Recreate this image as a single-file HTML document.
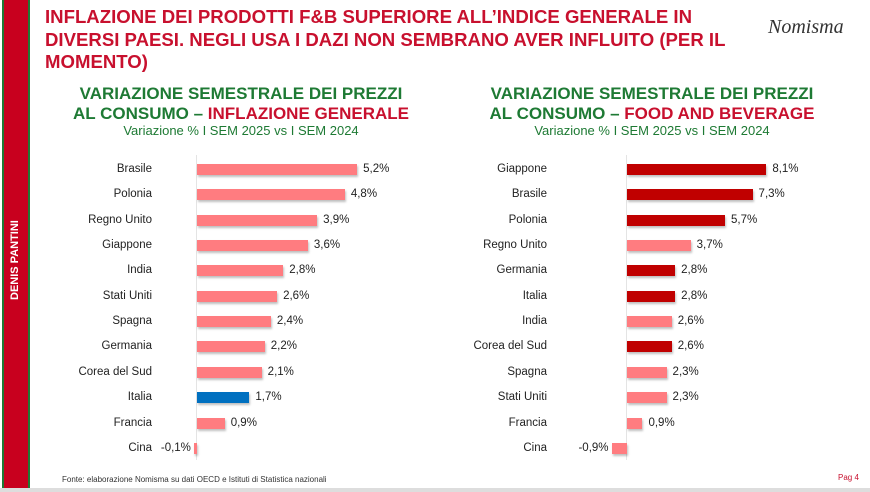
<!DOCTYPE html>
<html><head><meta charset="utf-8"><style>
body{margin:0;width:870px;height:492px;background:#fff;position:relative;overflow:hidden;font-family:"Liberation Sans",sans-serif}
.a{position:absolute}
.t{left:45px;top:6px;color:#c8102e;font-weight:bold;font-size:18.6px;line-height:22.5px}
.h{color:#1e7a34;font-weight:bold;font-size:17px;line-height:20px;text-align:center;width:400px}
.s{color:#1e7a34;font-size:13px;text-align:center;width:400px}
.l{font-size:11.5px;color:#222;text-align:right;width:140px}
.v{font-size:11.5px;color:#222}
.b{height:11px;box-shadow:1px 2px 2px rgba(0,0,0,.25)}
</style></head><body>
<div class="a" style="left:2px;top:0;width:28px;height:488px;background:#1e7a34"></div>
<div class="a" style="left:4px;top:0;width:24px;height:488px;background:#c8001e"></div>
<div class="a" style="left:5px;top:300px;width:22px;height:0"><div style="position:absolute;transform:rotate(-90deg);transform-origin:0 0;left:4px;top:0;color:#fff;font-weight:bold;font-size:11px;white-space:nowrap;">DENIS PANTINI</div></div>
<div class="a" style="left:0;top:488px;width:870px;height:4px;background:#ddd"></div>
<div class="a t">INFLAZIONE DEI PRODOTTI F&amp;B SUPERIORE ALL’INDICE GENERALE IN<br>DIVERSI PAESI. NEGLI USA I DAZI NON SEMBRANO AVER INFLUITO (PER IL<br>MOMENTO)</div>
<div class="a" style="left:768px;top:16px;font-family:'Liberation Serif',serif;font-style:italic;font-size:20px;color:#333">Nomisma</div>
<div class="a h" style="left:41px;top:84px">VARIAZIONE SEMESTRALE DEI PREZZI<br>AL CONSUMO – <span style="color:#c8102e">INFLAZIONE GENERALE</span></div>
<div class="a s" style="left:41px;top:123px">Variazione % I SEM 2025 vs I SEM 2024</div>
<div class="a h" style="left:452px;top:84px">VARIAZIONE SEMESTRALE DEI PREZZI<br>AL CONSUMO – <span style="color:#c8102e">FOOD AND BEVERAGE</span></div>
<div class="a s" style="left:452px;top:123px">Variazione % I SEM 2025 vs I SEM 2024</div>
<div class="a" style="left:196px;top:155px;width:1px;height:305px;background:#e4e4e4"></div>
<div class="a" style="left:626px;top:155px;width:1px;height:305px;background:#e4e4e4"></div>
<div id="c"></div>
<div class="a" style="left:62px;top:475px;font-size:8px;color:#333">Fonte: elaborazione Nomisma su dati OECD e Istituti di Statistica nazionali</div>
<div class="a" style="left:838px;top:473px;font-size:8px;color:#c8102e">Pag 4</div>
<script>
var P='#ff7c80',D='#c00000',B='#0070c0';
var L=[["Brasile",5.2,P],["Polonia",4.8,P],["Regno Unito",3.9,P],["Giappone",3.6,P],["India",2.8,P],["Stati Uniti",2.6,P],["Spagna",2.4,P],["Germania",2.2,P],["Corea del Sud",2.1,P],["Italia",1.7,B],["Francia",0.9,P],["Cina",-0.1,P]];
var R=[["Giappone",8.1,D],["Brasile",7.3,D],["Polonia",5.7,D],["Regno Unito",3.7,P],["Germania",2.8,D],["Italia",2.8,D],["India",2.6,P],["Corea del Sud",2.6,D],["Spagna",2.3,P],["Stati Uniti",2.3,P],["Francia",0.9,P],["Cina",-0.9,P]];
var h='';
function draw(d,ax,sc,lr){d.forEach(function(r,i){var y=169+i*25.35;var w=Math.abs(r[1])*sc;var x=r[1]<0?ax-w:ax;
h+='<div class="a l" style="left:'+(lr-140)+'px;top:'+(y-6)+'px">'+r[0]+'</div>';
h+='<div class="a b" style="left:'+x+'px;top:'+(y-5)+'px;width:'+w+'px;background:'+r[2]+'"></div>';
var t=(r[1]+'').replace('.',',')+'%';if(t.indexOf(',')<0)t=t.replace('%',',0%');
if(r[1]<0)h+='<div class="a v" style="left:'+(x-38)+'px;top:'+(y-6)+'px;width:35px;text-align:right">'+t+'</div>';
else h+='<div class="a v" style="left:'+(x+w+6)+'px;top:'+(y-6)+'px">'+t+'</div>';});}
draw(L,197,30.8,152);draw(R,627,17.2,547);
document.getElementById('c').innerHTML=h;
</script>
</body></html>
